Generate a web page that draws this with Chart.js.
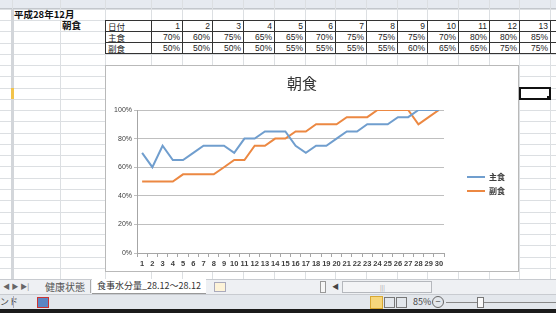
<!DOCTYPE html>
<html>
<head>
<meta charset="utf-8">
<script src="https://cdn.jsdelivr.net/npm/chart.js@4.4.1/dist/chart.umd.min.js"></script>
<style>
body { margin: 0; width: 556px; height: 313px; overflow: hidden; background: #fff; font-family: "Noto Sans CJK JP", sans-serif; }
#sheet { position: relative; width: 556px; height: 313px; overflow: hidden; }
.abs { position: absolute; }
.hl { position: absolute; left: 0; width: 556px; height: 1px; background: #dcdfe2; }
.vl { position: absolute; top: 0; width: 1px; height: 279px; background: #dcdfe2; }
#colhdr { left: 0; top: 0; width: 556px; height: 8px; background: #e6eaf0; border-bottom: 1px solid #c3c7cc; }
#rowhdr { left: 11px; top: 9px; width: 3px; height: 270px; background: #d3d6da; }
.cell { position: absolute; box-sizing: border-box; border: 1px solid #333; font-size: 8.5px; line-height: 10px; color: #222; padding: 0 2px; overflow: hidden; white-space: nowrap; background: #fff; }
.num { text-align: right; font-family: "Liberation Sans", sans-serif; font-size: 8.5px; }
#chartbox { left: 105px; top: 65px; width: 412px; height: 205px; border: 1px solid #b9b9b9; background: #fff; }
#sel { left: 519px; top: 87px; width: 28px; height: 9px; border: 2px solid #111; }
#handle { left: 547px; top: 96px; width: 4px; height: 4px; background: #111; }
#tabs { left: 0; top: 279px; width: 556px; height: 14px; background: #eef0f3; border-top: 1px solid #c8cbd0; font-size: 10px; color: #555; white-space: nowrap; }
#status { left: 0; top: 294px; width: 556px; height: 15px; background: #e3e7ec; border-top: 1px solid #c8cbd0; font-size: 9px; color: #444; }
#dark { left: 0; top: 309px; width: 556px; height: 4px; background: #1b1b1b; }
</style>
</head>
<body>
<div id="sheet">
  <div id="colhdr" class="abs"></div>
  <div id="grid"></div>
  <div id="rowhdr" class="abs"></div>
  <div class="abs" style="left:11px;top:88px;width:3px;height:11px;background:#f2c34a;"></div>
  <div class="abs" style="left:14px;top:9px;font-size:9.5px;font-weight:bold;line-height:11px;color:#111;">平成28年12月</div>
  <div class="abs" style="left:62px;top:20px;font-size:9.5px;font-weight:bold;line-height:11px;color:#111;">朝食</div>
  <div id="table"></div>
  <div id="chartbox" class="abs"><canvas id="myChart" width="412" height="205"></canvas></div>
  <div id="sel" class="abs"></div>
  <div id="handle" class="abs"></div>
  <div id="tabs" class="abs">
    <div class="abs" style="left:3px;top:1px;font-size:7px;color:#666;">◀ ▶ ▶|</div>
    <div class="abs" style="left:40px;top:0;width:50px;height:13px;text-align:center;line-height:13px;">健康状態</div>
    <div class="abs" style="left:90px;top:0;width:1px;height:13px;background:#aaa;"></div>
    <div class="abs" style="left:92px;top:-1px;width:114px;height:14px;background:#fff;border-bottom:1px solid #999;line-height:13px;text-align:center;color:#333;font-size:9px;">食事水分量_28.12～28.12</div>
    <div class="abs" style="left:214px;top:2px;width:10px;height:8px;border:1px solid #aab;background:#fdf3d8;"></div>
    <div class="abs" style="left:320px;top:1px;width:4px;height:10px;border:1px solid #999;background:#f6f6f6;"></div>
    <div class="abs" style="left:332px;top:1px;font-size:7px;color:#444;">◀</div>
    <div class="abs" style="left:342px;top:1px;width:88px;height:10px;border:1px solid #b5b8bd;background:#f3f4f6;"></div>
    <div class="abs" style="left:380px;top:3px;font-size:6px;color:#999;">|||</div>
  </div>
  <div id="status" class="abs">
    <div class="abs" style="left:0;top:1px;line-height:12px;">ンド</div>
    <div class="abs" style="left:13px;top:1px;width:1px;height:12px;background:#aab;"></div>
    <div class="abs" style="left:37px;top:2px;width:10px;height:9px;background:#5b86c4;border:1px solid #c33;"></div>
    <div class="abs" style="left:370px;top:1px;width:11px;height:11px;background:#f7d77b;border:1px solid #d8a833;"></div>
    <div class="abs" style="left:384px;top:2px;width:9px;height:9px;border:1px solid #777;"></div>
    <div class="abs" style="left:396px;top:2px;width:9px;height:9px;border:1px solid #777;"></div>
    <div class="abs" style="left:413px;top:0;line-height:13px;">85%</div>
    <div class="abs" style="left:432px;top:1px;width:10px;height:10px;border:1px solid #666;border-radius:6px;text-align:center;line-height:9px;font-size:9px;">−</div>
    <div class="abs" style="left:446px;top:7px;width:110px;height:1px;background:#888;"></div>
    <div class="abs" style="left:477px;top:2px;width:5px;height:9px;background:#fafafa;border:1px solid #777;"></div>
  </div>
  <div id="dark" class="abs"></div>
</div>
<script>
var blue = "rgba(112, 158, 206, 1)";
var orange = "rgba(236, 136, 66, 1)";

var days = ["1", "2", "3", "4", "5", "6", "7", "8", "9", "10",
            "11", "12", "13", "14", "15", "16", "17", "18", "19", "20",
            "21", "22", "23", "24", "25", "26", "27", "28", "29", "30"];
// 主食 / 副食, percent
var mainDish = [70, 60, 75, 65, 65, 70, 75, 75, 75, 70, 80, 80, 85, 85, 85,
                75, 70, 75, 75, 80, 85, 85, 90, 90, 90, 95, 95, 100, 100, 100];
var sideDish = [50, 50, 50, 50, 55, 55, 55, 55, 60, 65, 65, 75, 75, 80, 80,
                85, 85, 90, 90, 90, 95, 95, 95, 100, 100, 100, 100, 90, 95, 100];
var yTicks = [0, 20, 40, 60, 80, 100];

// spreadsheet gridlines
var grid = document.getElementById("grid");
var html = "";
for (var r = 0; r < 25; r++) {
    html += '<div class="hl" style="top:' + Math.round(8.7 + r * 11.27) + 'px"></div>';
}
var colEdges = [12, 60, 105];
for (var c = 0; c < 15; c++) colEdges.push(Math.round(151 + c * 30.7));
colEdges.forEach(function (x) {
    html += '<div class="vl" style="left:' + x + 'px"></div>';
});
grid.innerHTML = html;

// data table (first 14 days)
var tbl = "";
var rowsTop = [20, 31, 42];
var rowNames = ["日付", "主食", "副食"];
var rowVals = [days, mainDish.map(v => v + "%"), sideDish.map(v => v + "%")];
for (var i = 0; i < 3; i++) {
    tbl += '<div class="cell" style="left:105px;top:' + rowsTop[i] + 'px;width:47px;height:12px;">' + rowNames[i] + '</div>';
    for (var j = 0; j < 14; j++) {
        var x = Math.round(151 + j * 30.7);
        tbl += '<div class="cell num" style="left:' + x + 'px;top:' + rowsTop[i] + 'px;width:' + (Math.round(151 + (j + 1) * 30.7) - x + 1) + 'px;height:12px;">' + rowVals[i][j] + '</div>';
    }
}
document.getElementById("table").innerHTML = tbl;

// push legend away from the plot like Excel does
var legendShift = {
    id: "legendShift",
    afterLayout: function (chart) {
        chart.legend.left += 17;
        chart.legend.right += 17;
        chart.legend.top += 16;
        chart.legend.bottom += 16;
    }
};

new Chart("myChart", {
    type: "line",
    data: {
        labels: days,
        datasets: [
            { label: "主食", data: mainDish, borderColor: blue, backgroundColor: blue, borderWidth: 2, pointRadius: 0 },
            { label: "副食", data: sideDish, borderColor: orange, backgroundColor: orange, borderWidth: 2, pointRadius: 0 },
        ],
    },
    options: {
        responsive: false,
        animation: false,
        layout: { padding: { left: 0, right: 20, top: 0, bottom: 1 } },
        plugins: {
            title: {
                display: true,
                text: "朝食",
                color: "#333",
                font: { family: "Noto Sans CJK JP", size: 15, weight: "normal" },
                padding: { top: 8, bottom: 18 },
            },
            legend: {
                position: "right",
                labels: {
                    usePointStyle: true,
                    pointStyle: "line",
                    pointStyleWidth: 18,
                    color: "#404040",
                    font: { family: "Noto Sans CJK JP", size: 8, weight: "bold" },
                    padding: 6,
                },
            },
            tooltip: { enabled: false },
        },
        scales: {
            x: {
                offset: true,
                grid: { offset: true, drawOnChartArea: false, tickLength: 4, color: "#a6a6a6" },
                border: { color: "#a6a6a6" },
                ticks: {
                    autoSkip: false, maxRotation: 0, padding: 2, color: "#404040",
                    font: { family: "Liberation Sans", size: 7.5, weight: "bold" },
                },
            },
            y: {
                min: 0,
                max: 100,
                afterBuildTicks: function (scale) {
                    scale.ticks = yTicks.map(v => ({ value: v }));
                },
                afterFit: function (scale) { scale.width = 31; },
                grid: { color: "#bfbfbf", tickLength: 3 },
                border: { color: "#a6a6a6" },
                ticks: {
                    padding: 2, color: "#404040",
                    font: { family: "Liberation Sans", size: 7 },
                    callback: v => v + "%",
                },
            },
        },
    },
    plugins: [legendShift],
});
</script>
</body>
</html>
